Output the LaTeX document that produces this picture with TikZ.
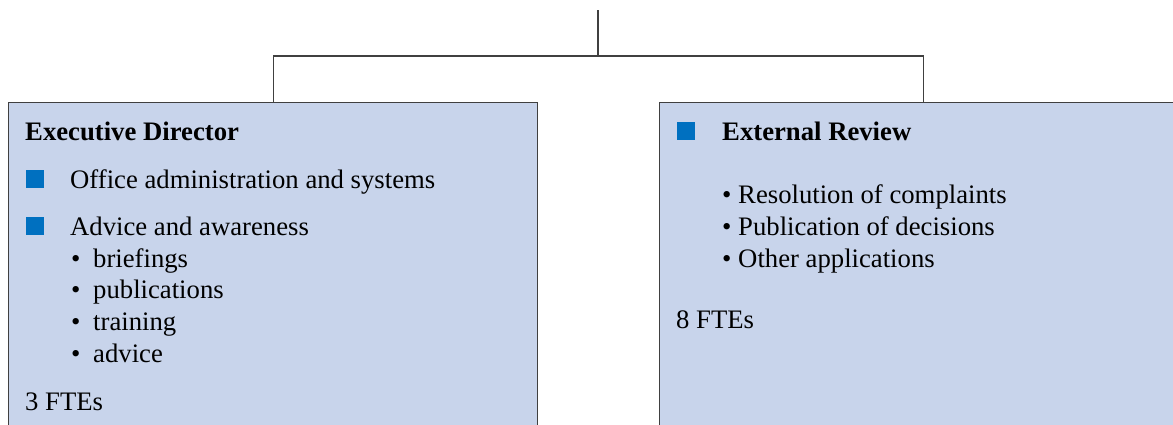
\documentclass[tikz,border=0pt]{standalone}
\usepackage{fontspec}
\setmainfont{Liberation Serif}
\definecolor{boxfill}{HTML}{C8D4EB}
\definecolor{boxline}{HTML}{404040}
\definecolor{sqblue}{HTML}{0070C0}
\tikzset{
  box/.style={draw=boxline, line width=1.3pt, fill=boxfill, rectangle, inner sep=0pt},
  conn/.style={draw=boxline, line width=1.3pt},
  sq/.style={fill=sqblue, rectangle, inner sep=0pt, minimum size=18pt},
  txt/.style={inner sep=0pt, anchor=base west, font=\fontsize{26.7}{32}\selectfont},
  btxt/.style={txt, font=\fontsize{26.7}{32}\selectfont\bfseries}
}
\begin{document}
\begin{tikzpicture}[x=1pt,y=-1pt]
\path[use as bounding box] (0,0) rectangle (1173,424);
\clip (0,0) rectangle (1173,424);
% boxes
\node[box, minimum width=529pt, minimum height=400pt, anchor=north west] (left) at (8,101.5) {};
\node[box, minimum width=528pt, minimum height=400pt, anchor=north west] (right) at (659,101.5) {};
% connectors
\coordinate (top) at (598,10);
\coordinate (bus) at (598,56);
\draw[conn] (top) -- (bus);
\draw[conn] (left.north) -- (left.north |- bus) -- (right.north |- bus) -- (right.north);
% left content
\node[btxt] (ed) at (25,140) {Executive Director};
\node[sq, anchor=south west] (s1) at (26,188) {};
\node[txt] (oa) at (70,188) {Office administration and systems};
\node[sq, anchor=south west] (s2) at (26,235) {};
\node[txt] (aa) at (70,235) {Advice and awareness};
\node[txt] (b1) at (71,267) {•};
\node[txt] (t1) at (93,267) {briefings};
\node[txt] (b2) at (71,298.5) {•};
\node[txt] (t2) at (93,298.5) {publications};
\node[txt] (b3) at (71,330) {•};
\node[txt] (t3) at (93,330) {training};
\node[txt] (b4) at (71,362) {•};
\node[txt] (t4) at (93,362) {advice};
\node[txt] (f1) at (25,410) {3 FTEs};
% right content
\node[sq, anchor=south west] (s3) at (677,140) {};
\node[btxt] (er) at (722,140) {External Review};
\node[txt] (r1) at (722,203) {• Resolution of complaints};
\node[txt] (r2) at (722,235) {• Publication of decisions};
\node[txt] (r3) at (722,267) {• Other applications};
\node[txt] (f2) at (676,328) {8 FTEs};
\end{tikzpicture}
\end{document}
